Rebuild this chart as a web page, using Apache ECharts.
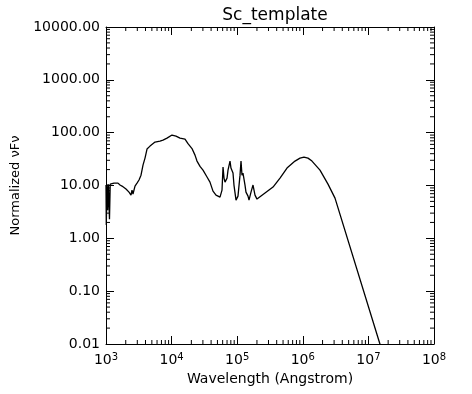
<!DOCTYPE html>
<html>
<head>
<meta charset="utf-8">
<script src="https://cdn.jsdelivr.net/npm/echarts@6/dist/echarts.min.js"></script>
<style>html,body{margin:0;padding:0;background:#fff}#c{width:472px;height:394px}</style>
</head>
<body>
<div id="c"></div>
<script>
// Wavelength (Angstrom)
const wavelength = [1000, 1010, 1035, 1060, 1090, 1130, 1160, 1234, 1324, 1420, 1523, 1634, 1753, 2018, 2242, 2405, 2491, 2580, 2768, 2969,
  3185, 3417, 3665, 3932, 4218, 4690, 5586, 6654, 7394, 8511, 10140, 11670, 13430, 16000, 17780, 20460, 22740, 24390,
  27100, 30120, 32300, 34660, 38460, 42760, 47530, 54700, 58660, 60810, 62950, 65160, 69980, 72440, 77700, 80350, 86300, 89300, 95900, 102800,
  110400, 114300, 118300, 122500, 131500, 136100, 146200, 151400, 162300, 174200, 186800, 200400, 265400, 351600, 449200, 574300, 760600, 906000, 1042000, 1199000,
  1380000, 1828000, 2421000, 3097000, 15030000];
// Normalized nuFnu
const flux = [10.2, 1.78, 10.6, 3.42, 10.6, 2.31, 10.6, 11.1, 11.1, 10.6, 11.1, 10.2, 9.75, 8.6, 7.5, 6.6, 8.2, 6.9, 9.75, 11.1,
  12.7, 15.7, 24.3, 33.0, 48.9, 55.7, 66.4, 69.3, 72.4, 79.0, 90.1, 86.2, 79.0, 75.6, 62.0, 50.0, 37.6, 29.0,
  23.0, 19.5, 17.9, 14.5, 11.6, 7.83, 6.58, 6.03, 8.18, 22.3, 13.8, 11.6, 13.8, 19.6, 29.0, 21.4, 17.2, 10.2, 5.29, 6.30,
  15.7, 29.0, 15.7, 17.2, 10.2, 7.50, 6.30, 5.29, 7.50, 10.2, 6.58, 5.53, 7.18, 9.33, 13.8, 21.4, 29.0, 33.0, 34.5, 33.0,
  29.0, 19.6, 10.6, 5.77, 0.0099];

const xMin = 1e3, xMax = 1e8, yMin = 0.01, yMax = 1e4;
const xMinorTicks = [];
for (let e = 3; e < 8; e++) for (let m = 2; m <= 9; m++) xMinorTicks.push(m * Math.pow(10, e));
const yMinorTicks = [];
for (let e = -2; e < 4; e++) for (let m = 2; m <= 9; m++) yMinorTicks.push(m * Math.pow(10, e));

const FONT = 'DejaVu Sans';
const chart = echarts.init(document.getElementById('c'), null, {renderer: 'canvas'});

function xAxisCfg(pos, show) {
  return {
    type: 'log', logBase: 10, min: xMin, max: xMax, position: pos,
    axisLine: {show: true, onZero: false, lineStyle: {color: '#000', width: 1}},
    axisTick: {show: true, inside: true, length: 8, lineStyle: {color: '#000'}},
    splitLine: {show: false},
    axisLabel: show ? {
      show: true, margin: 8, color: '#000', fontFamily: FONT, fontSize: 14,
      formatter: v => '10{s|' + Math.round(Math.log10(v)) + '}',
      rich: {s: {fontSize: 10, fontFamily: FONT, color: '#000', verticalAlign: 'top', padding: [0, 0, 6, 0]}}
    } : {show: false},
    name: show ? 'Wavelength (Angstrom)' : '', nameLocation: 'middle', nameGap: 26,
    nameTextStyle: {color: '#000', fontFamily: FONT, fontSize: 14}
  };
}
function yAxisCfg(pos, show) {
  return {
    type: 'log', logBase: 10, min: yMin, max: yMax, position: pos,
    axisLine: {show: true, onZero: false, lineStyle: {color: '#000', width: 1}},
    axisTick: {show: true, inside: true, length: 8, lineStyle: {color: '#000'}},
    splitLine: {show: false},
    axisLabel: show ? {
      show: true, margin: 6, color: '#000', fontFamily: FONT, fontSize: 14,
      formatter: v => Number(v).toFixed(2)
    } : {show: false},
    name: show ? 'Normalized \u03bdF\u03bd' : '', nameLocation: 'middle', nameGap: 84,
    nameTextStyle: {color: '#000', fontFamily: FONT, fontSize: 13}
  };
}

function minorTickRender(isX) {
  return function (params, api) {
    const v = api.value(isX ? 0 : 1);
    const L = 4;
    if (isX) {
      const b = api.coord([v, yMin]);
      const t = api.coord([v, yMax]);
      return {type: 'group', children: [
        {type: 'line', shape: {x1: b[0], y1: b[1], x2: b[0], y2: b[1] - L}, style: {stroke: '#000', lineWidth: 1}},
        {type: 'line', shape: {x1: t[0], y1: t[1], x2: t[0], y2: t[1] + L}, style: {stroke: '#000', lineWidth: 1}}
      ]};
    } else {
      const l = api.coord([xMin, v]);
      const r = api.coord([xMax, v]);
      return {type: 'group', children: [
        {type: 'line', shape: {x1: l[0], y1: l[1], x2: l[0] + L, y2: l[1]}, style: {stroke: '#000', lineWidth: 1}},
        {type: 'line', shape: {x1: r[0], y1: r[1], x2: r[0] - L, y2: r[1]}, style: {stroke: '#000', lineWidth: 1}}
      ]};
    }
  };
}

chart.setOption({
  animation: false,
  backgroundColor: '#fff',
  title: {text: 'Sc_template', left: 270, textAlign: 'center', top: 2,
    textStyle: {color: '#000', fontFamily: FONT, fontSize: 17, fontWeight: 'normal'}},
  grid: {left: 106, right: 38, top: 27, bottom: 50, containLabel: false},
  xAxis: [xAxisCfg('bottom', true), xAxisCfg('top', false)],
  yAxis: [yAxisCfg('left', true), yAxisCfg('right', false)],
  series: [
    {type: 'line', xAxisIndex: 0, yAxisIndex: 0, data: wavelength.map((w, i) => [w, flux[i]]),
      showSymbol: false, clip: true, lineStyle: {color: '#000', width: 1.3}},
    {type: 'custom', xAxisIndex: 0, yAxisIndex: 0, renderItem: minorTickRender(true),
      data: xMinorTicks.map(v => [v, yMin]), clip: false, silent: true},
    {type: 'custom', xAxisIndex: 0, yAxisIndex: 0, renderItem: minorTickRender(false),
      data: yMinorTicks.map(v => [xMin, v]), clip: false, silent: true}
  ]
});
</script>
</body>
</html>
